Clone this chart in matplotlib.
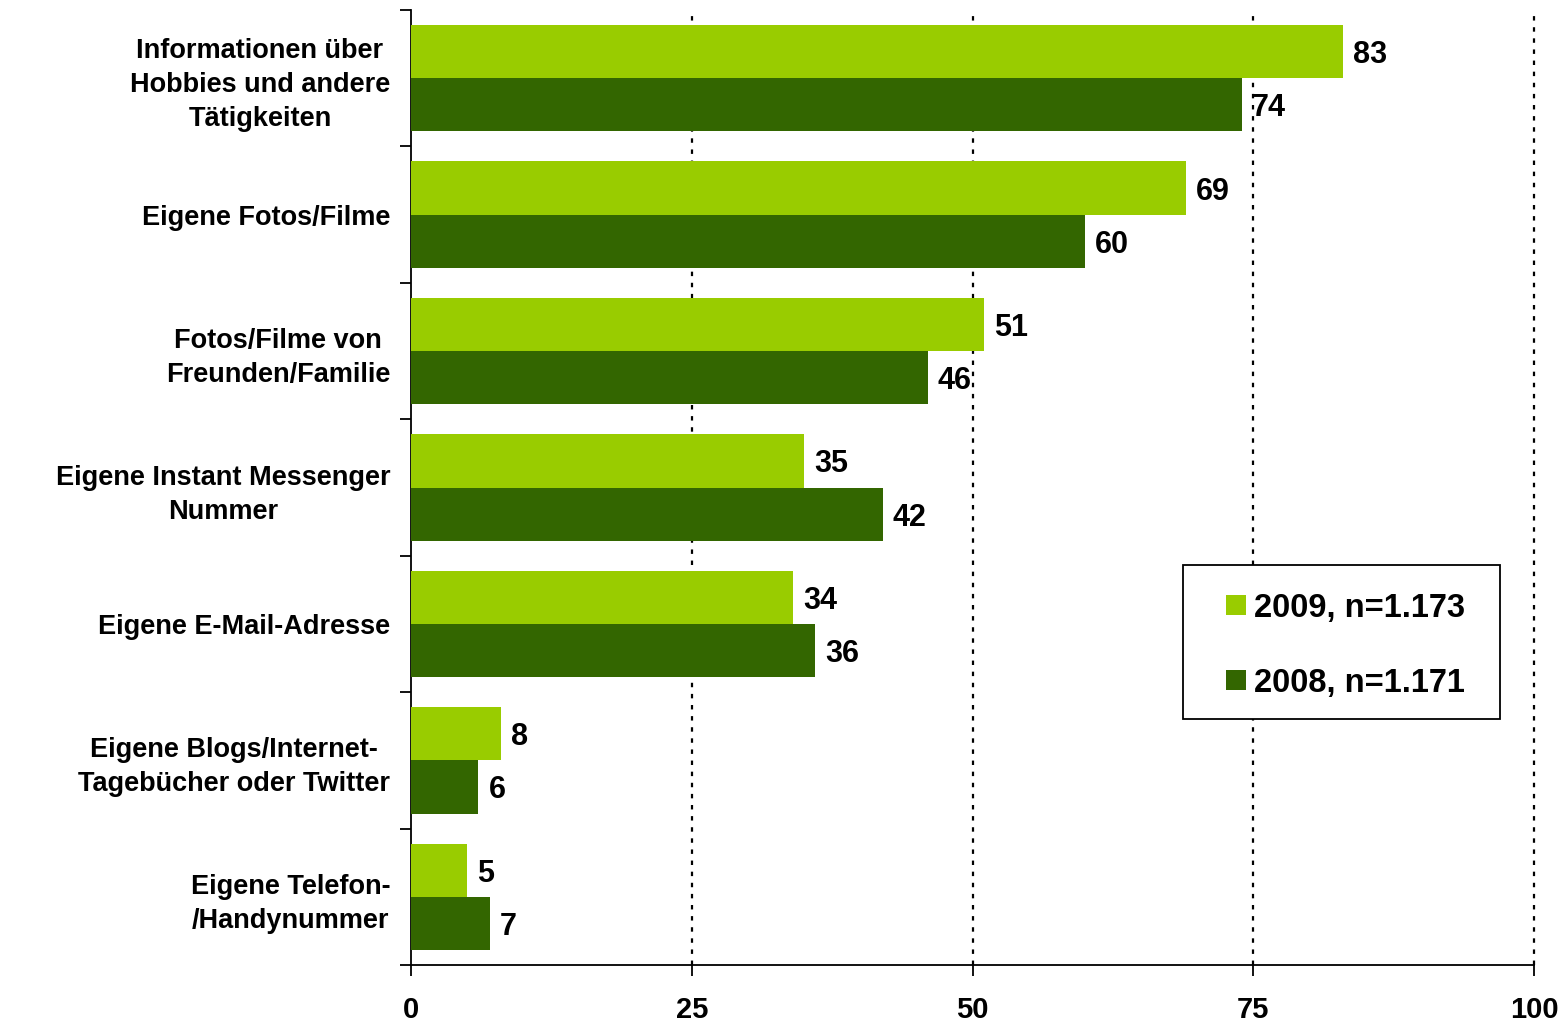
import matplotlib
matplotlib.use("Agg")
import matplotlib.pyplot as plt
from matplotlib.patches import Rectangle
import numpy as np

categories = [
    "Informationen über\nHobbies und andere\nTätigkeiten",
    "Eigene Fotos/Filme",
    "Fotos/Filme von\nFreunden/Familie",
    "Eigene Instant Messenger\nNummer",
    "Eigene E-Mail-Adresse",
    "Eigene Blogs/Internet-\nTagebücher oder Twitter",
    "Eigene Telefon-\n/Handynummer",
]
values_2009 = [83, 69, 51, 35, 34, 8, 5]
values_2008 = [74, 60, 46, 42, 36, 6, 7]
series_labels = ["2009, n=1.173", "2008, n=1.171"]
x_ticks = [0, 25, 50, 75, 100]

c2009 = "#99CC00"
c2008 = "#336600"

plt.rcParams['font.family'] = ['Liberation Sans', 'DejaVu Sans']

W, H = 1567, 1022
fig = plt.figure(figsize=(W/100, H/100), dpi=100)
ax = fig.add_axes([411/W, 1-965/H, (1534-411)/W, (965-10)/H])

n = len(categories)
pos = np.arange(n)
h = 0.39
b1 = ax.barh(pos - h/2, values_2009, height=h, color=c2009, label=series_labels[0], zorder=3)
b2 = ax.barh(pos + h/2, values_2008, height=h, color=c2008, label=series_labels[1], zorder=3)

for bars, vals in ((b1, values_2009), (b2, values_2008)):
    for rect, v in zip(bars, vals):
        ax.text(v + 0.9, rect.get_y() + rect.get_height()/2, str(v),
                ha='left', va='center_baseline', fontsize=22, fontweight='bold', zorder=4)

ax.set_ylim(n - 0.5, -0.5)
ax.set_xlim(0, 100)

# y ticks at group boundaries, labels at centers
ax.set_yticks(np.arange(-0.5, n, 1.0))
ax.set_yticklabels([])
ax.set_yticks(pos, minor=True)
ax.set_yticklabels(categories, minor=True, fontsize=19.5, fontweight='bold', ha='right',
                   multialignment='center', linespacing=1.4)
ax.tick_params(axis='y', which='minor', length=0, pad=15)
ax.tick_params(axis='y', which='major', length=8, width=1.3, direction='out')

ax.set_xticks(x_ticks)
ax.set_xticklabels([str(t) for t in x_ticks], fontsize=21, fontweight='bold')
ax.tick_params(axis='x', length=8, width=1.3, direction='out', pad=14)

for t in x_ticks[1:]:
    ax.axvline(t, color='black', linestyle=(0, (2, 3)), linewidth=1.6, zorder=1, clip_on=False)

for s in ('top', 'right'):
    ax.spines[s].set_visible(False)
for s in ('left', 'bottom'):
    ax.spines[s].set_linewidth(1.3)

# legend box (drawn in figure pixel fractions)
fig.patches.append(Rectangle((1183/W, 1-719/H), (1500-1183)/W, (719-565)/H,
                             transform=fig.transFigure, facecolor='white',
                             edgecolor='black', linewidth=1.3, zorder=5))
for lbl, col, yc in ((series_labels[0], c2009, 605), (series_labels[1], c2008, 680)):
    fig.patches.append(Rectangle((1226/W, 1-(yc+10)/H), 20/W, 20/H,
                                 transform=fig.transFigure, facecolor=col,
                                 edgecolor='none', zorder=6))
    fig.text(1254/W, 1-yc/H, lbl, ha='left', va='center_baseline', fontsize=23.5,
             fontweight='bold', zorder=7)

fig.savefig("out.png", dpi=100)
